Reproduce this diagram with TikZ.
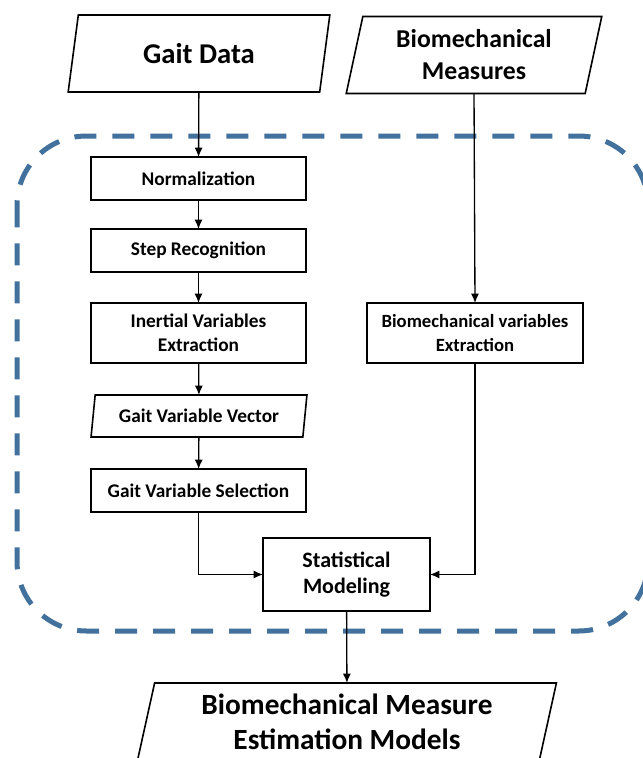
\documentclass[tikz,border=0pt]{standalone}
\usepackage{fontspec}
\setmainfont{Carlito}
\usetikzlibrary{arrows.meta,shapes.geometric}
\definecolor{DashBlue}{HTML}{41719C}
\begin{document}
\begin{tikzpicture}[x=0.75pt,y=-0.75pt,every node/.style={font=\bfseries,text=black,align=center,inner sep=0pt,outer sep=0pt},box/.style={draw,fill=white,line width=1.2pt,minimum width=161.25pt,minimum height=32.25pt,font=\bfseries\fontsize{14.5}{18}\selectfont},datashape/.style={trapezium,trapezium left angle=77,trapezium right angle=103,trapezium stretches=true,draw,fill=white,line width=1.2pt},arrow/.style={-{Latex[length=7pt,width=6pt]},line width=1pt}]
\useasboundingbox (0,0) rectangle (643,758); \clip (0,0) rectangle (643,758);
\fill[white] (0,0) rectangle (643,758);

\draw[DashBlue,line width=3.75pt,dash pattern=on 16.5pt off 12pt,rounded corners=52pt] (17,136) rectangle (648,631);

\node[datashape,minimum width=196.5pt,minimum height=57.75pt,font=\bfseries\fontsize{21.5}{26}\selectfont] (gait) at (199,53.5) {Gait Data};
\node[datashape,minimum width=192pt,minimum height=57.75pt,font=\bfseries\fontsize{19.3}{24}\selectfont] (biomeas) at (474,55) {Biomechanical\\Measures};
\node[box] (norm) at (198.5,178.5) {Normalization}; \node[box] (step) at (198.5,250.5) {Step Recognition};
\node[box,minimum height=45pt] (inert) at (198.5,333) {Inertial Variables\\Extraction};
\node[datashape,minimum width=162pt,minimum height=31.5pt,font=\bfseries\fontsize{14.5}{18}\selectfont] (vector) at (199,416) {Gait Variable Vector};
\node[box] (select) at (198.5,490.5) {Gait Variable Selection};
\node[box,minimum width=162pt,minimum height=45pt,font=\bfseries\fontsize{14}{18}\selectfont] (biovar) at (475,333) {Biomechanical variables\\Extraction};
\node[box,minimum width=125.25pt,minimum height=54.75pt,font=\bfseries\fontsize{16.5}{19.5}\selectfont] (stat) at (346.5,574.5) {Statistical\\Modeling};
\node[datashape,minimum width=315pt,minimum height=57.75pt,font=\bfseries\fontsize{22}{26.25}\selectfont] (models) at (347,721.5) {Biomechanical Measure\\Estimation Models};

\draw[arrow] (gait) -- (norm); \draw[arrow] (norm) -- (step); \draw[arrow] (step) -- (inert); \draw[arrow] (inert) -- (vector); \draw[arrow] (vector) -- (select);
\draw[arrow] (select.south) |- (stat.west); \draw[arrow] (biomeas.south) -- (biovar.north); \draw[arrow] (biovar.south) |- (stat.east);
\draw[arrow] (stat) -- (models);

\end{tikzpicture}
\end{document}
